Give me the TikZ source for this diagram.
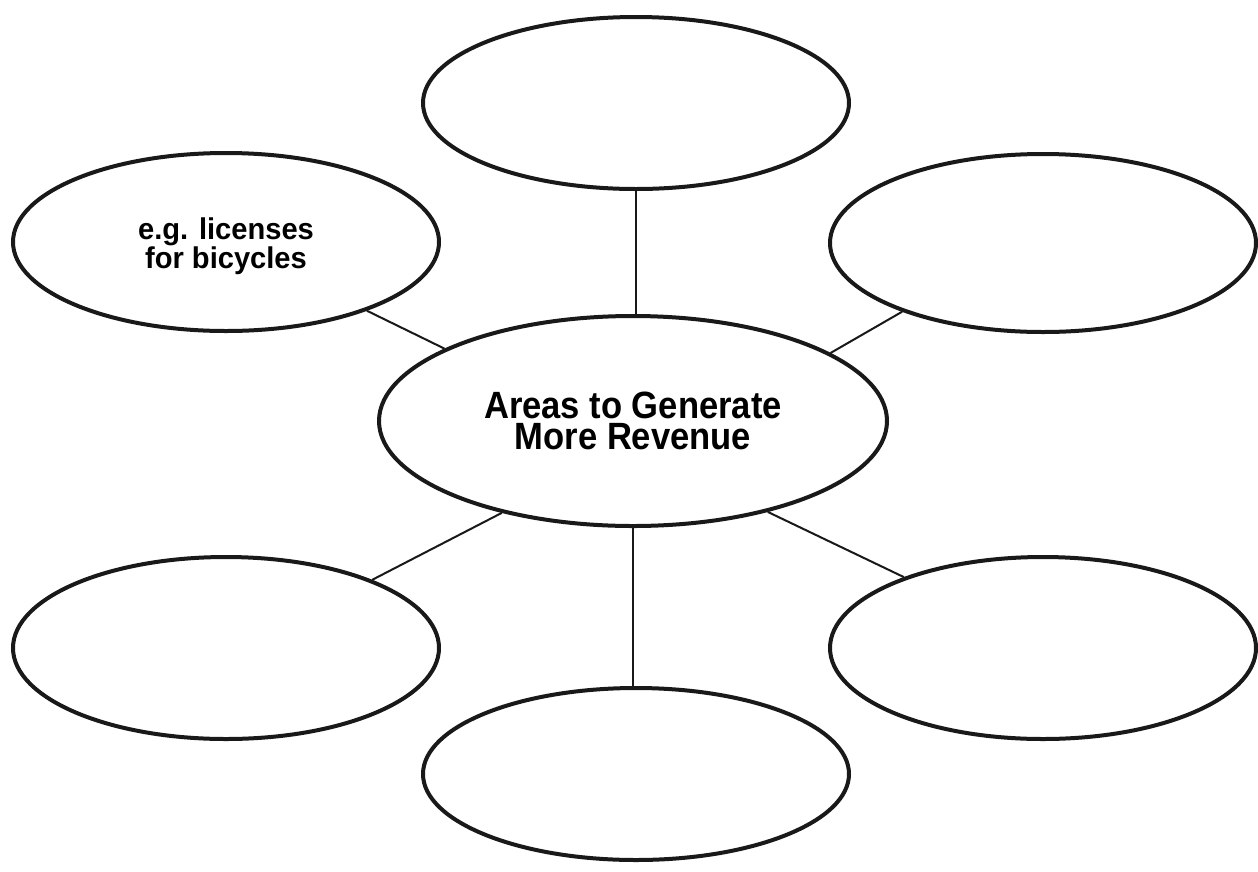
\documentclass[tikz,border=0pt]{standalone}
\usepackage{fontspec}
\setmainfont{Liberation Sans}
\newfontfamily\condfont[FakeStretch=0.91]{Liberation Sans}
\newfontfamily\smallcondfont[FakeStretch=0.97]{Liberation Sans}
\usetikzlibrary{shapes.geometric}
\tikzset{
  bubble/.style={ellipse, draw=black!90, line width=4pt, inner sep=0pt,
    minimum width=426pt, minimum height=172pt, align=center},
  link/.style={draw=black!90, line width=2pt},
  caption/.style={align=center, inner sep=0pt}
}
\begin{document}
\begin{tikzpicture}[x=1pt,y=-1pt]
\useasboundingbox[fill=white] (0,0) rectangle (1258,871);
\node[bubble, minimum width=508pt, minimum height=210pt,
  font=\condfont\bfseries\fontsize{38}{31}\selectfont] (c) at (633,421) {Areas to Generate\\More Revenue};
\node[bubble] (t) at (636,103) {};
\node[bubble, minimum height=178pt] (tl) at (226,242) {};
\node[caption, font=\smallcondfont\bfseries\fontsize{30}{25}\selectfont] (tltext) at (226,246) {e.g. licenses\\for bicycles};
\node[bubble, minimum height=178pt] (tr) at (1043,243) {};
\node[bubble, minimum height=182pt] (bl) at (226,648) {};
\node[bubble, minimum height=182pt] (br) at (1043,648) {};
\node[bubble] (b) at (636,774) {};
\draw[link] (t.south) -- (t.south |- c.north);
\draw[link] (c.south) -- (c.south |- b.north);
\draw[link] (c.159.7) -- (tl.-26.2);
\draw[link] (c.19.6) -- (tr.206.7);
\draw[link] (c.215.3) -- (bl.25.6);
\draw[link] (c.-34.5) -- (br.153.9);
\end{tikzpicture}
\end{document}
